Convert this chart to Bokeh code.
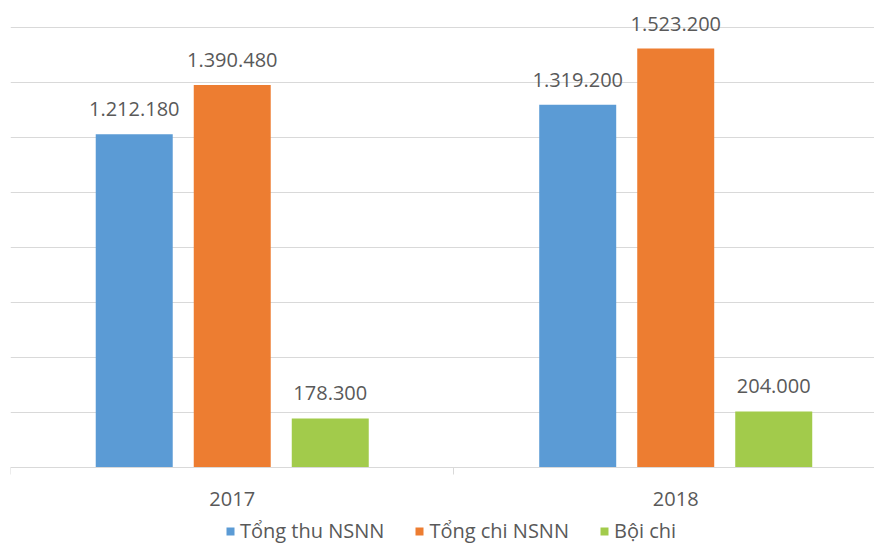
from bokeh.plotting import figure
from bokeh.models import Range1d, FixedTicker, ColumnDataSource, Legend, LegendItem
from bokeh.transform import dodge
from bokeh.core.properties import value
from bokeh.embed import file_html
from bokeh.resources import INLINE

# ---- data ----
years = ["2017", "2018"]
series = ["Tổng thu NSNN", "Tổng chi NSNN", "Bội chi"]
tong_thu = [1212180, 1319200]
tong_chi = [1390480, 1523200]
boi_chi = [178300, 204000]
grid_values = [0, 200000, 400000, 600000, 800000, 1000000, 1200000, 1400000, 1600000]
boundaries = [-0.5, 0.5, 1.5]

colors = ["#5B9BD5", "#ED7D31", "#A2CB4B"]
FONT = "Open Sans"
TXT = "#595959"
GRID = "#D9D9D9"


def fmt(v):
    return f"{v:,}".replace(",", ".")


idx = list(range(len(years)))

p = figure(width=874, height=544, output_backend="svg", toolbar_location=None,
           x_range=Range1d(-0.5, 1.4482), y_range=Range1d(-280000, 1661818),
           y_axis_location=None,
           min_border_left=10, min_border_right=0, min_border_top=10, min_border_bottom=0)
p.outline_line_color = None
p.background_fill_color = "white"
p.border_fill_color = "white"

offsets = [-0.221, 0.0, 0.221]
renderers = []
for vals, col, off in zip([tong_thu, tong_chi, boi_chi], colors, offsets):
    src = ColumnDataSource(dict(x=idx, top=vals, label=[fmt(v) for v in vals]))
    r = p.vbar(x=dodge("x", off, range=p.x_range), top="top", bottom=0, width=0.1736,
               source=src, fill_color=col, line_color=None)
    renderers.append(r)
    p.text(x=dodge("x", off, range=p.x_range), y="top", text="label", source=src,
           text_align="center", text_baseline="middle", y_offset=-25,
           text_font=value(FONT), text_font_size="20px", text_color=TXT)

# grid
p.xgrid.visible = False
p.ygrid.ticker = FixedTicker(ticks=grid_values)
p.ygrid.grid_line_color = GRID
p.ygrid.grid_line_width = 1

# x axis (drawn at value 0 inside the frame)
p.xaxis.fixed_location = 0
p.xaxis.ticker = FixedTicker(ticks=idx, minor_ticks=boundaries)
p.xaxis.major_label_overrides = {i: y for i, y in zip(idx, years)}
p.xaxis.major_tick_out = 0
p.xaxis.major_tick_in = 0
p.xaxis.minor_tick_out = 7
p.xaxis.minor_tick_in = 0
p.xaxis.minor_tick_line_color = GRID
p.xaxis.axis_line_color = GRID
p.xaxis.major_label_standoff = 17
p.xaxis.major_label_text_font = FONT
p.xaxis.major_label_text_font_size = "20px"
p.xaxis.major_label_text_color = TXT

legend = Legend(items=[LegendItem(label=s, renderers=[r]) for s, r in zip(series, renderers)],
                location=(215, 0), orientation="horizontal", spacing=30,
                padding=0, margin=0, border_line_color=None, background_fill_alpha=0,
                label_text_font=FONT, label_text_font_size="20px", label_text_color=TXT,
                label_standoff=5, glyph_width=10, glyph_height=10)
p.add_layout(legend)

open("out.html", "w").write(file_html(p, INLINE))
